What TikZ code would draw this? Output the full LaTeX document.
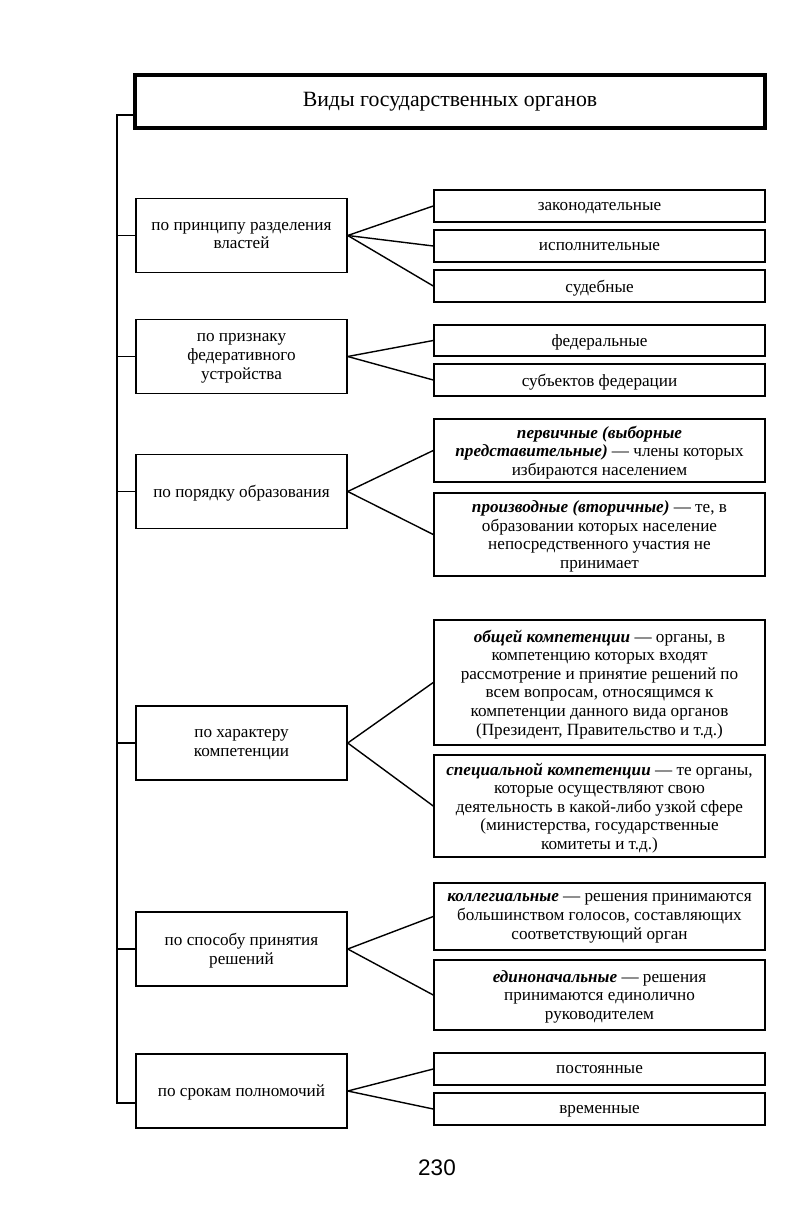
\documentclass[tikz,border=0pt]{standalone}
\usepackage{fontspec}
\setmainfont{Liberation Serif}
\newfontfamily\pagefont{Liberation Sans}
\usetikzlibrary{positioning}
\tikzset{
  crit/.style={draw, line width=1pt, align=center, minimum width=5.275cm, minimum height=1.85cm, inner sep=2pt, text depth=0pt},
  kind/.style={draw, line width=1pt, align=center, minimum width=8.275cm, inner sep=1pt, text depth=0pt},
  head/.style={draw, line width=3.2pt, minimum width=15.75cm, minimum height=1.325cm, font=\fontsize{15.5}{18}\selectfont},
  fan/.style={line width=1pt},
  trunk/.style={line width=1pt}
}
\newcommand{\term}[1]{\textbf{\textit{#1}}}

\begin{document}
\begin{tikzpicture}[x=0.025cm, y=-0.025cm, font=\fontsize{12.2}{13.2}\selectfont]
  \useasboundingbox (0,0) rectangle (800,1222);
  \node[head] (title) at (450,101.5) {Виды государственных органов};

  \node[crit] (razd)  at (241.5,235.5) {по принципу разделения\\властей};
  \node[crit] (feder) at (241.5,356.5) {по признаку\\федеративного\\устройства};
  \node[crit] (obraz) at (241.5,491.5) {по порядку образования};
  \node[crit] (komp)  at (241.5,743)   {по характеру\\компетенции};
  \node[crit] (resh)  at (241.5,949)   {по способу принятия\\решений};
  \node[crit] (srok)  at (241.5,1091)  {по срокам полномочий};

  \node[kind, minimum height=0.8cm]   (zak)    at (599.5,206)   {законодательные};
  \node[kind, minimum height=0.8cm]   (isp)    at (599.5,246)   {исполнительные};
  \node[kind, minimum height=0.8cm]   (sud)    at (599.5,286)   {судебные};
  \node[kind, minimum height=0.775cm] (fed)    at (599.5,340.5) {федеральные};
  \node[kind, minimum height=0.8cm]   (subj)   at (599.5,380)   {субъектов федерации};
  \node[kind, minimum height=1.575cm] (perv)   at (599.5,450.5) {\term{первичные (выборные}\\\term{представительные)} — члены которых\\избираются населением};
  \node[kind, minimum height=2.075cm] (proizv) at (599.5,534.5) {\term{производные (вторичные)} — те, в\\образовании которых население\\непосредственного участия не\\принимает};
  \node[kind, minimum height=3.125cm] (obsch)  at (599.5,682.5) {\term{общей компетенции} — органы, в\\компетенцию которых входят\\рассмотрение и принятие решений по\\всем вопросам, относящимся к\\компетенции данного вида органов\\(Президент, Правительство и т.д.)};
  \node[kind, minimum height=2.55cm]  (spec)   at (599.5,806)   {\term{специальной компетенции} — те органы,\\которые осуществляют свою\\деятельность в какой-либо узкой сфере\\(министерства, государственные\\комитеты и т.д.)};
  \node[kind, minimum height=1.675cm] (koll)   at (599.5,916.5) {\term{коллегиальные} — решения принимаются\\большинством голосов, составляющих\\соответствующий орган};
  \node[kind, minimum height=1.75cm]  (edin)   at (599.5,995)   {\term{единоначальные} — решения\\принимаются единолично\\руководителем};
  \node[kind, minimum height=0.8cm]   (post)   at (599.5,1069)  {постоянные};
  \node[kind, minimum height=0.8cm]   (vrem)   at (599.5,1109)  {временные};

  \foreach \t in {zak,isp,sud} \draw[fan] (razd.east) -- (\t.west);
  \foreach \t in {fed,subj} \draw[fan] (feder.east) -- (\t.west);
  \foreach \t in {perv,proizv} \draw[fan] (obraz.east) -- (\t.west);
  \foreach \t in {obsch,spec} \draw[fan] (komp.east) -- (\t.west);
  \foreach \t in {koll,edin} \draw[fan] (resh.east) -- (\t.west);
  \foreach \t in {post,vrem} \draw[fan] (srok.east) -- (\t.west);

  \coordinate (ttop) at (117,115);
  \coordinate (tbot) at (117,1103);
  \draw[trunk] (title.west |- ttop) -- (ttop) -- (tbot) -- (tbot -| srok.west);
  \foreach \b in {razd,feder,obraz,komp,resh} \draw[trunk] (\b.west) -- (\b.west -| ttop);

  \node[font=\pagefont\fontsize{16}{18}\selectfont] (page) at (437,1168) {230};
\end{tikzpicture}
\end{document}
